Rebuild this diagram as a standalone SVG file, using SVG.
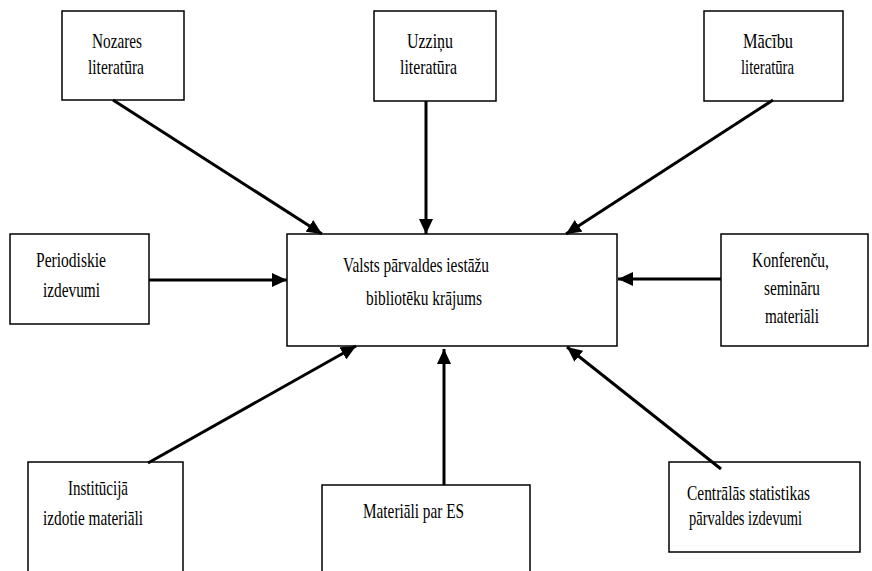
<svg xmlns="http://www.w3.org/2000/svg" width="872" height="571" viewBox="0 0 872 571">
<style>
.box{fill:#fff;stroke:#000;stroke-width:1.5}
.t{font-family:"Liberation Serif","Times New Roman",serif;font-size:21px;fill:#000}
.c{stroke:#000;stroke-width:3;fill:none;marker-end:url(#ah)}
</style>
<defs>
<marker id="ah" markerUnits="userSpaceOnUse" markerWidth="16" markerHeight="14" refX="15" refY="7" orient="auto" viewBox="0 0 16 14">
<path d="M0,0 L15,7 L0,14 z" fill="#000"/>
</marker>
</defs>
<rect width="872" height="571" fill="#fff"/>
<g id="nozares">
<rect class="box" x="62" y="11" width="122" height="89"/>
<text class="t" x="92" y="48" textLength="50" lengthAdjust="spacingAndGlyphs">Nozares</text>
<text class="t" x="88" y="74" textLength="56" lengthAdjust="spacingAndGlyphs">literatūra</text>
</g>
<g id="uzzinu">
<rect class="box" x="374" y="11" width="122" height="90"/>
<text class="t" x="407" y="48" textLength="46" lengthAdjust="spacingAndGlyphs">Uzziņu</text>
<text class="t" x="400" y="74" textLength="57" lengthAdjust="spacingAndGlyphs">literatūra</text>
</g>
<g id="macibu">
<rect class="box" x="704" y="11" width="139" height="90"/>
<text class="t" x="743" y="48" textLength="50" lengthAdjust="spacingAndGlyphs">Mācību</text>
<text class="t" x="741" y="74" textLength="53" lengthAdjust="spacingAndGlyphs">literatūra</text>
</g>
<g id="periodiskie">
<rect class="box" x="10" y="234" width="139" height="90"/>
<text class="t" x="36" y="267" textLength="70" lengthAdjust="spacingAndGlyphs">Periodiskie</text>
<text class="t" x="43" y="297" textLength="57" lengthAdjust="spacingAndGlyphs">izdevumi</text>
</g>
<g id="center">
<rect class="box" x="287" y="234" width="330" height="112"/>
<text class="t" x="343" y="272" textLength="146" lengthAdjust="spacingAndGlyphs">Valsts pārvaldes iestāžu</text>
<text class="t" x="366" y="305" textLength="116" lengthAdjust="spacingAndGlyphs">bibliotēku krājums</text>
</g>
<g id="konferencu">
<rect class="box" x="721" y="234" width="147" height="112"/>
<text class="t" x="752" y="267" textLength="77" lengthAdjust="spacingAndGlyphs">Konferenču,</text>
<text class="t" x="764" y="295" textLength="56" lengthAdjust="spacingAndGlyphs">semināru</text>
<text class="t" x="765" y="323" textLength="54" lengthAdjust="spacingAndGlyphs">materiāli</text>
</g>
<g id="institucija">
<path class="box" d="M28,575 L28,462 L183,462 L183,575"/>
<text class="t" x="68" y="495" textLength="60" lengthAdjust="spacingAndGlyphs">Institūcijā</text>
<text class="t" x="43" y="525" textLength="100" lengthAdjust="spacingAndGlyphs">izdotie materiāli</text>
</g>
<g id="materiali-es">
<path class="box" d="M322,575 L322,485 L530,485 L530,575"/>
<text class="t" x="363" y="518" textLength="101" lengthAdjust="spacingAndGlyphs">Materiāli par ES</text>
</g>
<g id="centralas">
<rect class="box" x="669" y="462" width="191" height="90"/>
<text class="t" x="687" y="500" textLength="123" lengthAdjust="spacingAndGlyphs">Centrālās statistikas</text>
<text class="t" x="689" y="525" textLength="113" lengthAdjust="spacingAndGlyphs">pārvaldes izdevumi</text>
</g>
<g id="connectors">
<line class="c" x1="113" y1="100" x2="322" y2="234"/>
<line class="c" x1="426" y1="101" x2="426" y2="234"/>
<line class="c" x1="773" y1="100" x2="566" y2="234"/>
<line class="c" x1="149" y1="280" x2="287" y2="280"/>
<line class="c" x1="721" y1="279" x2="618" y2="279"/>
<line class="c" x1="148" y1="463" x2="356" y2="346"/>
<line class="c" x1="444" y1="485" x2="444" y2="349"/>
<line class="c" x1="721" y1="469" x2="567" y2="347"/>
</g>
</svg>
